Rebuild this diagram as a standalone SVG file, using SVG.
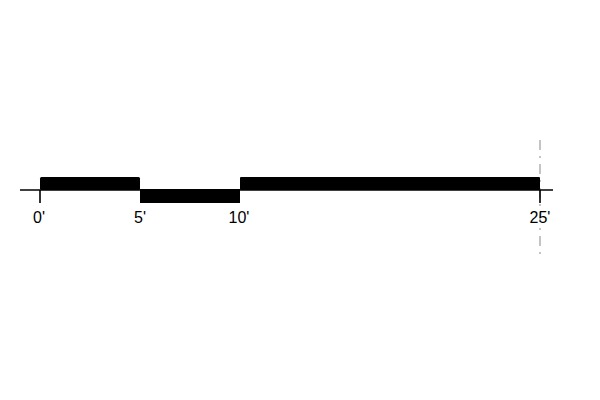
<svg xmlns="http://www.w3.org/2000/svg" width="600" height="400" viewBox="0 0 600 400">
<style>
.bar{fill:#000}
.ln{stroke:#000;stroke-width:1.6;fill:none}
.lbl{font-family:"Liberation Sans",Arial,sans-serif;font-size:16px;fill:#000;text-anchor:middle}
</style>
<rect width="600" height="400" fill="#fff"/>
<line x1="540" y1="140" x2="540" y2="256" stroke="#888" stroke-width="1" stroke-dasharray="10,6,2,6"/>
<g id="axis">
<line class="ln" x1="20" y1="190" x2="553" y2="190"/>
<line class="ln" x1="40" y1="190" x2="40" y2="203"/>
<line class="ln" x1="540" y1="190" x2="540" y2="203"/>
</g>
<g id="bars">
<rect class="bar" x="40" y="177" width="100" height="13" rx="1.5"/>
<rect class="bar" x="140" y="189" width="100" height="14"/>
<rect class="bar" x="240" y="177" width="300" height="13" rx="1"/>
</g>
<g id="labels">
<text class="lbl" x="39" y="223">0'</text>
<text class="lbl" x="140" y="223">5'</text>
<text class="lbl" x="239" y="223">10'</text>
<text class="lbl" x="540" y="223">25'</text>
</g>
</svg>
